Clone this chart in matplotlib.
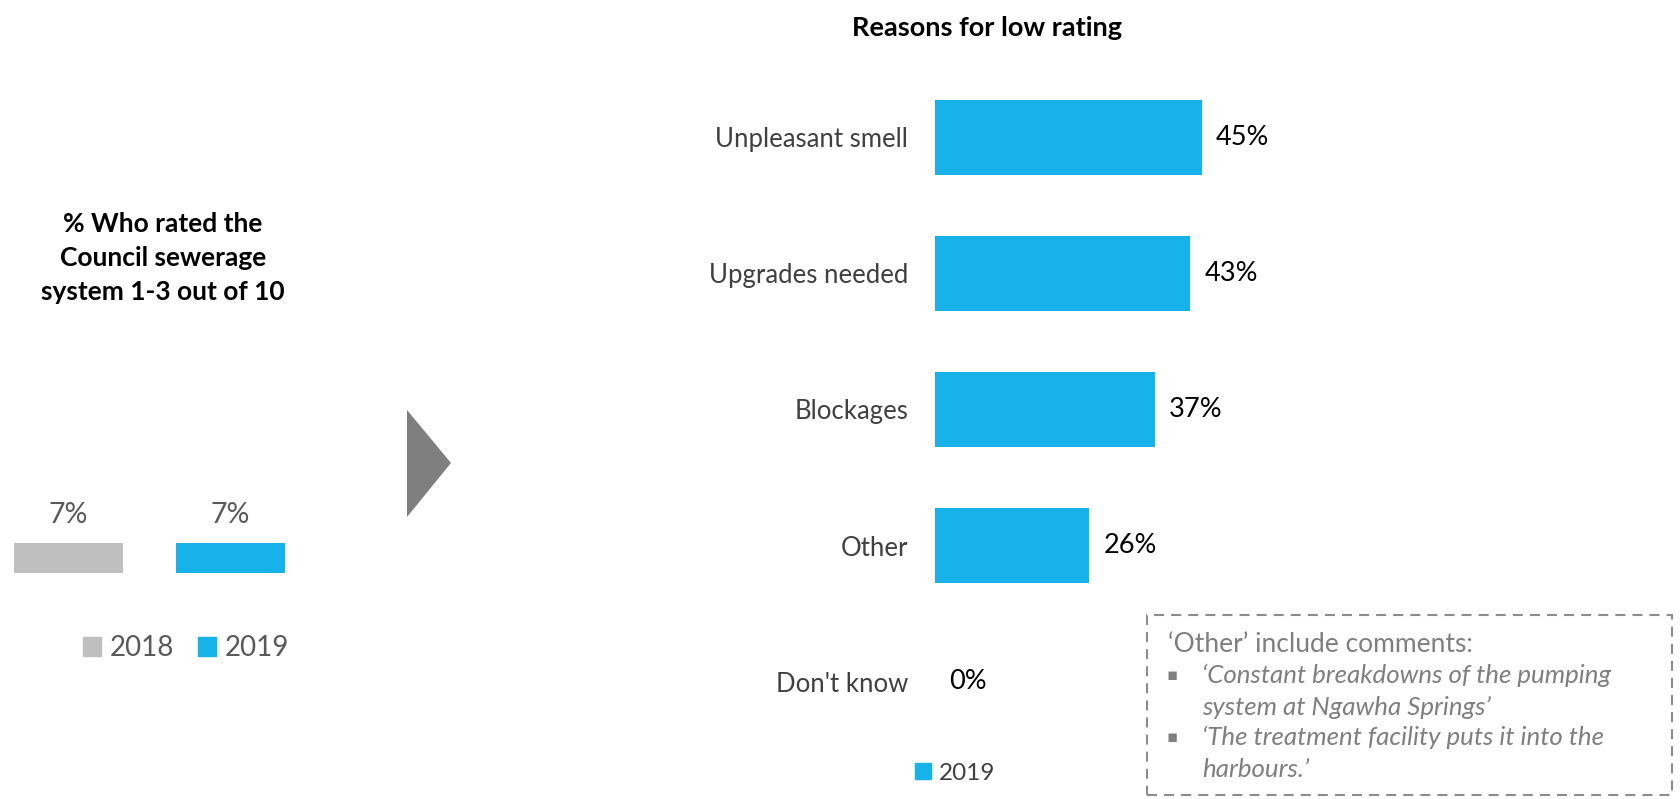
import matplotlib.pyplot as plt
from matplotlib.patches import Patch, Rectangle, Polygon

plt.rcParams['font.family'] = ['Lato', 'DejaVu Sans']

# left panel: % who rated the sewerage system 1-3
years = ['2018', '2019']
low_rating = [7, 7]

# right panel: reasons for low rating (2019)
reasons = ['Unpleasant smell', 'Upgrades needed', 'Blockages', 'Other', "Don't know"]
reason_pct = [45, 43, 37, 26, 0]

comment_head = "\u2018Other\u2019 include comments:"
comments = ["\u2018Constant breakdowns of the pumping\nsystem at Ngawha Springs\u2019",
            "\u2018The treatment facility puts it into the\nharbours.\u2019"]

BLUE = '#17B2E9'
GREY = '#BFBFBF'

W, H = 1681, 799
fig = plt.figure(figsize=(W / 100, H / 100), dpi=100)


def box(x0, y0, x1, y1):
    # pixel box, origin top-left -> figure fraction rect
    return [x0 / W, 1 - y1 / H, (x1 - x0) / W, (y1 - y0) / H]


### left panel ###
ax1 = fig.add_axes(box(0, 487, 300, 573))
bars = ax1.bar(range(len(years)), low_rating, width=0.673, color=[GREY, BLUE])
ax1.bar_label(bars, labels=[f'{v}%' for v in low_rating], padding=11,
              fontsize=20.5, color='#595959')
ax1.set_xlim(-0.423, 1.429)
ax1.set_ylim(0, 20)
ax1.axis('off')

fig.text(163 / W, 1 - 258 / H, '% Who rated the\nCouncil sewerage\nsystem 1-3 out of 10',
         ha='center', va='center', fontsize=19, fontweight='bold', linespacing=1.5)

fig.legend(handles=[Patch(color=GREY), Patch(color=BLUE)], labels=years, ncol=2,
           loc='center', bbox_to_anchor=(186 / W, 1 - 648 / H), frameon=False,
           fontsize=20, handlelength=0.65, handleheight=0.65, handletextpad=0.32,
           columnspacing=0.85, labelcolor='#595959', borderpad=0, borderaxespad=0)

# arrow between the panels
fig.add_artist(Polygon([(407 / W, 1 - 410 / H), (451 / W, 1 - 463 / H), (407 / W, 1 - 517 / H)],
                       closed=True, transform=fig.transFigure, color='#7F7F7F', lw=0))

### right panel ###
ax2 = fig.add_axes(box(935, 69.5, 1232, 749.5))
hb = ax2.barh(range(len(reasons)), reason_pct, height=0.55, color=BLUE)
ax2.bar_label(hb, labels=[f'{v}%' for v in reason_pct], padding=10, fontsize=19.5, color='black')
ax2.set_xlim(0, 50)
ax2.set_ylim(len(reasons) - 0.5, -0.5)
ax2.set_yticks(range(len(reasons)))
ax2.set_yticklabels(reasons)
ax2.tick_params(axis='y', length=0, pad=19.4, labelsize=18.5, labelcolor='#404040')
ax2.set_xticks([])
for s in ax2.spines.values():
    s.set_visible(False)

fig.text(987 / W, 1 - 28 / H, 'Reasons for low rating', ha='center', va='center',
         fontsize=19.5, fontweight='bold')

fig.legend(handles=[Patch(color=BLUE)], labels=['2019'], loc='center',
           bbox_to_anchor=(955 / W, 1 - 773 / H), frameon=False, fontsize=17.5,
           handlelength=0.66, handleheight=0.66, handletextpad=0.3,
           labelcolor='#404040', borderpad=0, borderaxespad=0)

# comments box
fig.add_artist(Rectangle((1147 / W, 1 - 795 / H), (1672 - 1147) / W, (795 - 615) / H,
                         transform=fig.transFigure, fill=False, edgecolor='#8C8C8C',
                         lw=1.5, linestyle=(0, (4.8, 3.4))))
fig.text(1168 / W, 1 - 644 / H, comment_head, va='center', fontsize=19, color='#7F7F7F')
for i, c in enumerate(comments):
    yc = 691.5 + 62 * i
    fig.text(1172 / W, 1 - (yc - 16.5) / H, '\u25aa', ha='center', va='center',
             fontsize=12, color='#7F7F7F', family='DejaVu Sans')
    fig.text(1202 / W, 1 - yc / H, c, va='center', fontsize=18.6, style='italic',
             color='#7F7F7F', linespacing=1.5)

fig.savefig('out.png', dpi=100)
